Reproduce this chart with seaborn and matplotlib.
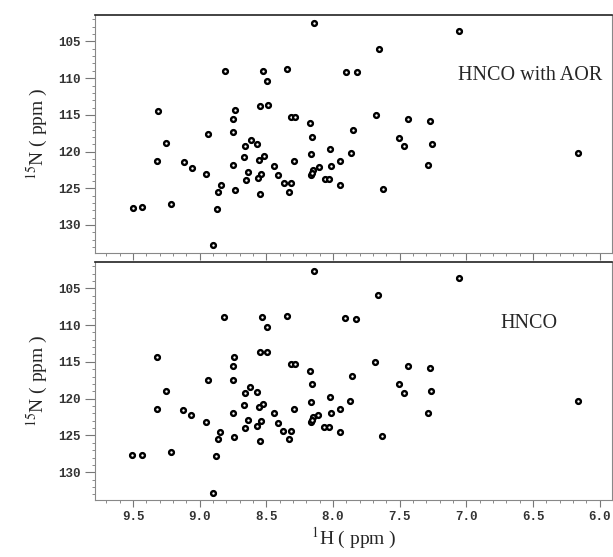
import numpy as np
import pandas as pd
import matplotlib
matplotlib.use('Agg')
import matplotlib.pyplot as plt
from matplotlib.ticker import MultipleLocator
import seaborn as sns

# --- peak list: HNCO with AOR (top panel) ---
aor_h = [8.145, 7.052, 7.657, 8.810, 8.527, 8.345, 7.905, 7.822, 8.495, 8.547,
         8.490, 9.315, 8.735, 7.680, 8.750, 8.315, 8.285, 7.437, 7.272, 8.170,
         7.850, 8.747, 8.937, 8.157, 7.505, 8.617, 9.250, 7.260, 8.567, 8.657,
         7.467, 8.022, 6.162, 7.867, 8.162, 8.520, 8.667, 8.552, 8.290, 9.317,
         7.945, 9.120, 8.750, 7.287, 8.442, 8.015, 8.107, 9.057, 8.150, 8.637,
         8.537, 8.950, 8.167, 8.412, 8.565, 8.060, 8.030, 8.655, 8.367, 8.315,
         8.842, 7.947, 7.627, 8.735, 8.327, 8.860, 8.545, 9.217, 9.430, 9.502,
         8.872, 8.897, 8.160]
aor_n = [102.55, 103.60, 105.96, 108.96, 109.00, 108.80, 109.14, 109.20, 110.40, 113.80,
         113.70, 114.47, 114.30, 115.05, 115.60, 115.30, 115.30, 115.55, 115.87, 116.10,
         117.06, 117.40, 117.55, 118.05, 118.10, 118.40, 118.80, 118.90, 119.00, 119.20,
         119.30, 119.70, 120.20, 120.24, 120.30, 120.60, 120.70, 121.15, 121.30, 121.33,
         121.33, 121.40, 121.80, 121.80, 121.90, 121.97, 122.10, 122.20, 122.50, 122.80,
         123.00, 123.10, 123.20, 123.20, 123.60, 123.70, 123.70, 123.90, 124.30, 124.30,
         124.50, 124.50, 125.05, 125.20, 125.50, 125.55, 125.80, 127.15, 127.56, 127.65,
         127.80, 132.75, 122.90]

# --- peak list: HNCO (bottom panel) ---
hnco_h = [8.145, 7.055, 7.660, 8.815, 8.530, 8.347, 7.907, 7.825, 8.497, 8.550,
          8.495, 9.317, 8.740, 7.682, 8.752, 8.315, 8.285, 7.437, 7.275, 8.172,
          7.855, 8.750, 8.937, 8.160, 7.507, 8.620, 9.250, 7.262, 8.567, 8.660,
          7.470, 8.025, 6.162, 7.872, 8.162, 8.522, 8.670, 8.552, 8.292, 9.317,
          7.947, 9.125, 8.752, 7.290, 8.445, 8.017, 8.110, 9.062, 8.150, 8.640,
          8.542, 8.955, 8.167, 8.415, 8.570, 8.065, 8.032, 8.657, 8.372, 8.315,
          8.845, 7.950, 7.630, 8.740, 8.330, 8.862, 8.547, 9.217, 9.430, 9.507,
          8.875, 8.897, 8.160]
hnco_n = [102.60, 103.60, 105.90, 108.84, 108.90, 108.70, 109.05, 109.20, 110.30, 113.70,
          113.65, 114.40, 114.30, 115.00, 115.60, 115.30, 115.30, 115.50, 115.86, 116.20,
          116.99, 117.40, 117.50, 118.00, 118.07, 118.40, 118.90, 118.90, 119.05, 119.30,
          119.30, 119.80, 120.27, 120.37, 120.40, 120.70, 120.86, 121.20, 121.40, 121.35,
          121.40, 121.50, 121.90, 121.90, 121.90, 122.00, 122.20, 122.26, 122.50, 122.90,
          123.10, 123.20, 123.20, 123.34, 123.74, 123.80, 123.80, 123.97, 124.40, 124.40,
          124.55, 124.60, 125.10, 125.20, 125.46, 125.55, 125.80, 127.20, 127.60, 127.60,
          127.75, 132.80, 122.90]

panel_labels = ['HNCO with AOR', 'HNCO']
x_ticks = [9.5, 9.0, 8.5, 8.0, 7.5, 7.0, 6.5, 6.0]
y_ticks = [105, 110, 115, 120, 125, 130]

sns.set_theme(style='ticks')
plt.rcParams['mathtext.fontset'] = 'stix'

fig = plt.figure(figsize=(6.13, 5.57), dpi=100)
ax_top = fig.add_axes([0.155, 0.546, 0.843, 0.427])
ax_bot = fig.add_axes([0.155, 0.102, 0.843, 0.428])

tick_font = dict(family='Liberation Mono', weight='bold', size=9)
serif = 'Liberation Serif'

panels = [(ax_top, aor_h, aor_n), (ax_bot, hnco_h, hnco_n)]
for i, (ax, hh, nn) in enumerate(panels):
    df = pd.DataFrame({'H': hh, 'N': nn})
    sns.scatterplot(data=df, x='H', y='N', ax=ax, s=12, marker='o',
                    facecolor='white', edgecolor='black', linewidth=1.7, zorder=3)
    ax.set_xlim(9.785, 5.91)
    ax.set_ylim(133.8, 101.4)
    ax.set_xticks(x_ticks)
    ax.set_yticks(y_ticks)
    ax.xaxis.set_minor_locator(MultipleLocator(0.1))
    ax.yaxis.set_minor_locator(MultipleLocator(1))
    ax.tick_params(which='major', length=5, width=0.8, color='#777777', pad=3)
    ax.tick_params(which='minor', length=2.5, width=0.6, color='#777777')
    ax.tick_params(axis='y', which='major', length=7)
    for lab in ax.get_yticklabels():
        lab.set_fontproperties(matplotlib.font_manager.FontProperties(**tick_font))
        lab.set_color('#333333')
    for sp in ['left', 'right', 'bottom']:
        ax.spines[sp].set_color('#888888')
        ax.spines[sp].set_linewidth(0.8)
    ax.spines['top'].set_color('#222222')
    ax.spines['top'].set_linewidth(1.2)
    ax.set_ylabel('$^{15}$N ( ppm )', fontsize=14, family=serif, labelpad=6)
    ax.set_xlabel('')

ax_top.set_xticklabels([])
ax_bot.set_xticklabels([f'{v:.1f}' for v in x_ticks])
for lab in ax_bot.get_xticklabels():
    lab.set_fontproperties(matplotlib.font_manager.FontProperties(**tick_font))
    lab.set_color('#333333')
ax_bot.set_xlabel('$^{1}$H ( ppm )', fontsize=14, family=serif, labelpad=2)

ax_top.text(7.06, 109.6, panel_labels[0], fontsize=14.5, family=serif,
            ha='left', va='center')
ax_bot.text(6.742, 109.8, panel_labels[1], fontsize=14.5, family=serif,
            ha='left', va='center')

fig.savefig('out.png', dpi=100)
